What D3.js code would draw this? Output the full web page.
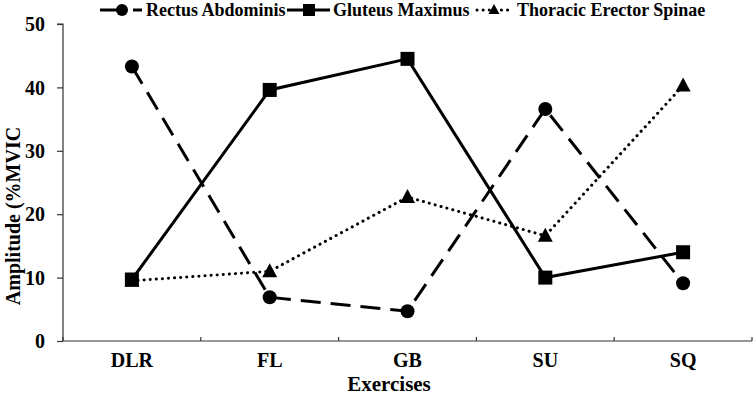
<!DOCTYPE html>
<html><head><meta charset="utf-8">
<script src="https://cdn.jsdelivr.net/npm/d3@7"></script>
<style>body{margin:0;background:#fff}svg{display:block}</style>
</head><body>
<script>
const categories = ["DLR","FL","GB","SU","SQ"];
const rectus = [43.3, 6.9, 4.7, 36.6, 9.1];
const gluteus = [9.7, 39.6, 44.5, 10.0, 14.0];
const thoracic = [9.5, 11.0, 22.7, 16.6, 40.3];
const yTicks = [0,10,20,30,40,50];
const seriesNames = ["Rectus Abdominis","Gluteus Maximus","Thoracic Erector Spinae"];

const FONT="'Liberation Serif', 'DejaVu Serif', serif";
const W=756,H=397;
const svg=d3.select("body").append("svg").attr("width",W).attr("height",H);
const x0=63,x1=752,y0=341,y1=24;
const xb=d3.scaleBand().domain(categories).range([x0,x1]);
const y=d3.scaleLinear().domain([0,50]).range([y0,y1]);
const cx=c=>xb(c)+xb.bandwidth()/2;
function styleText(sel,size){sel.attr("font-family",FONT).attr("font-weight","bold").attr("font-size",size).attr("fill","#000");}

// y axis
const ya=svg.append("g").attr("transform",`translate(${x0},0)`).call(d3.axisLeft(y).tickValues(yTicks).tickSize(6).tickPadding(12));
ya.attr("font-family",null).attr("font-size",null);
ya.select(".domain").attr("stroke","#333").attr("stroke-width",1.2).attr("d",`M-6,${y1}H0V${y0}`);
ya.selectAll("line").attr("stroke","#333").attr("stroke-width",1.2);
styleText(ya.selectAll("text").attr("dy","0.33em"),20);

// x axis
const xa=svg.append("g").attr("transform",`translate(0,${y0})`).call(d3.axisBottom(xb).tickSize(0).tickPadding(12));
xa.attr("font-family",null).attr("font-size",null);
xa.select(".domain").attr("stroke","#333").attr("stroke-width",1.2).attr("d",`M${x0},0H${x1}`);
styleText(xa.selectAll("text").attr("dy","0.71em"),20);
const bounds=categories.map(c=>xb(c)).concat([x1]);
svg.append("g").selectAll("line").data(bounds).join("line")
  .attr("x1",d=>d).attr("x2",d=>d).attr("y1",y0-4).attr("y2",y0).attr("stroke","#333").attr("stroke-width",1.2);

// titles
styleText(svg.append("text").attr("x",389).attr("y",391).attr("text-anchor","middle").text("Exercises"),21);
styleText(svg.append("text").attr("transform","translate(20,216) rotate(-90)").attr("text-anchor","middle").text("Amplitude (%MVIC"),20);

const line=d3.line().x((d,i)=>cx(categories[i])).y(d=>y(d));
const series=[
  {vals:rectus,dash:"20,10",cap:"butt",marker:"circle"},
  {vals:gluteus,dash:null,cap:"butt",marker:"square"},
  {vals:thoracic,dash:"0.1,6",cap:"round",marker:"triangle"}
];
function drawMarker(g,type,px,py){
  if(type==="circle") g.append("circle").attr("cx",px).attr("cy",py).attr("r",7).attr("fill","#000");
  else if(type==="square") g.append("rect").attr("x",px-7).attr("y",py-7).attr("width",14).attr("height",14).attr("fill","#000");
  else g.append("path").attr("d",`M${px},${py-8}L${px+7.5},${py+6}L${px-7.5},${py+6}Z`).attr("fill","#000");
}
series.forEach(s=>{
  svg.append("path").datum(s.vals).attr("d",line).attr("fill","none").attr("stroke","#000")
    .attr("stroke-width",3).attr("stroke-dasharray",s.dash).attr("stroke-linecap",s.cap);
});
series.forEach(s=>{
  const g=svg.append("g");
  s.vals.forEach((v,i)=>drawMarker(g,s.marker,cx(categories[i]),y(v)));
});

// legend
const leg=[{lx:[100,142],mx:122,tx:146},{lx:[287,330],mx:309,tx:333},{lx:[477,513],mx:494,tx:517}];
leg.forEach((L,i)=>{
  const s=series[i];const g=svg.append("g");const ly=10;
  if(i===0){
    g.append("line").attr("x1",L.lx[0]).attr("x2",L.mx).attr("y1",ly).attr("y2",ly).attr("stroke","#000").attr("stroke-width",3);
    g.append("line").attr("x1",L.mx+11).attr("x2",L.lx[1]).attr("y1",ly).attr("y2",ly).attr("stroke","#000").attr("stroke-width",3);
  } else {
    g.append("line").attr("x1",L.lx[0]).attr("x2",L.lx[1]).attr("y1",ly).attr("y2",ly).attr("stroke","#000").attr("stroke-width",3)
      .attr("stroke-dasharray",s.dash).attr("stroke-linecap",s.cap);
  }
  if(s.marker==="triangle") g.append("path").attr("d",`M${L.mx},${ly-6}L${L.mx+5.5},${ly+4}L${L.mx-5.5},${ly+4}Z`).attr("fill","#000");
  else if(s.marker==="square") g.append("rect").attr("x",L.mx-6).attr("y",ly-6).attr("width",12).attr("height",12).attr("fill","#000");
  else g.append("circle").attr("cx",L.mx).attr("cy",ly).attr("r",6).attr("fill","#000");
  styleText(g.append("text").attr("x",L.tx).attr("y",ly).attr("dy","0.35em").text(seriesNames[i]),18);
});
</script>
</body></html>
